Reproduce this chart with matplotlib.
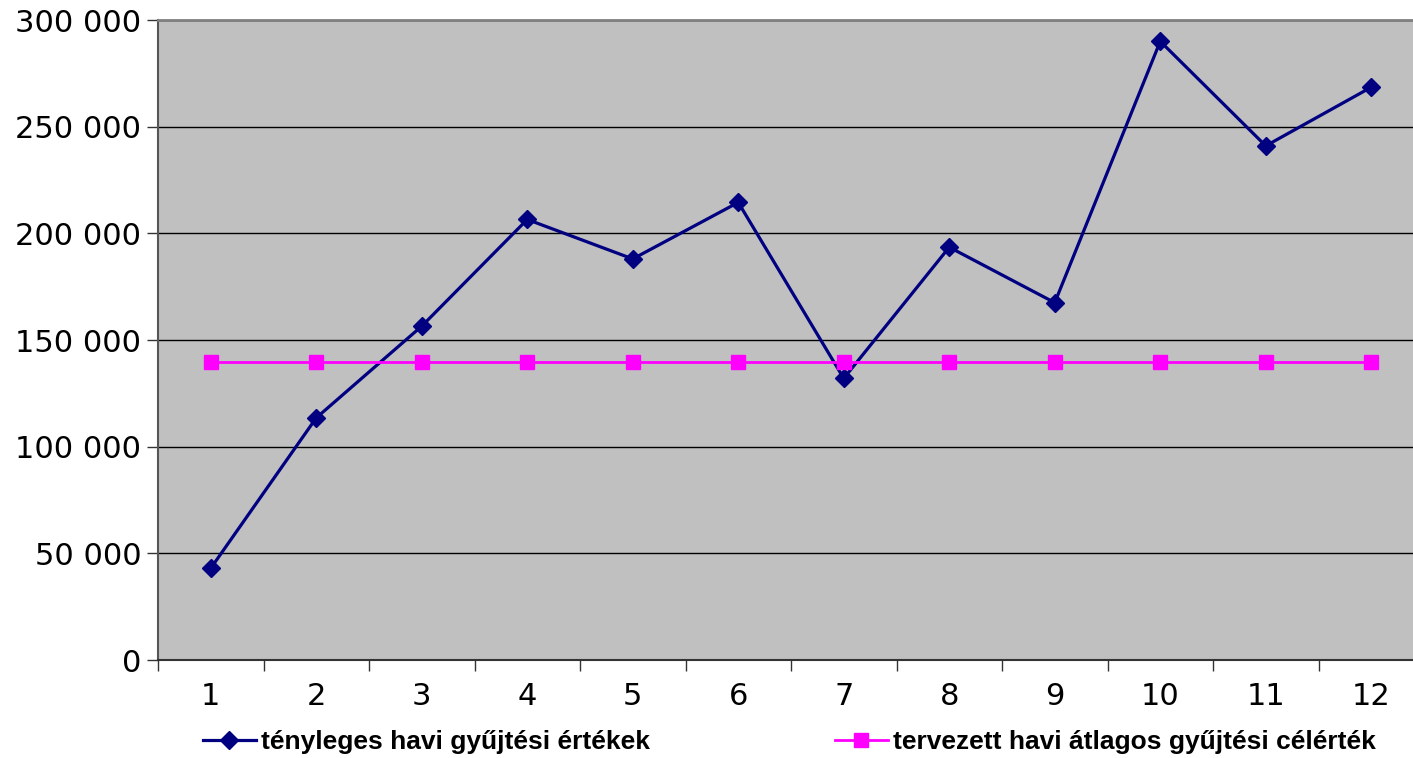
import matplotlib
matplotlib.use("Agg")
import matplotlib.pyplot as plt
from matplotlib.ticker import FuncFormatter, FixedLocator

# havi adatok
honapok = [1, 2, 3, 4, 5, 6, 7, 8, 9, 10, 11, 12]
tenyleges = [43000, 113500, 156500, 206500, 188000, 214500,
             132000, 193500, 167500, 290000, 241000, 268500]
tervezett = [139500] * 12

W, H = 1413, 758
fig = plt.figure(figsize=(W / 100, H / 100), dpi=100)
# a rajzterület jobb széle kicsit kilóg a képből
ax = fig.add_axes([158 / W, 98 / H, 1266 / W, 640 / H])
ax.set_facecolor("#C0C0C0")

l1, = ax.plot(honapok, tenyleges, color="#000080", lw=2.3, marker="D", ms=9,
              label="tényleges havi gyűjtési értékek")
l2, = ax.plot(honapok, tervezett, color="#FF00FF", lw=2.0, marker="s", ms=9.5,
              label="tervezett havi átlagos gyűjtési célérték")

ax.set_xlim(0.5, 12.5)
ax.set_ylim(0, 300000)
ax.set_yticks(range(0, 300001, 50000))
ax.yaxis.set_major_formatter(FuncFormatter(lambda v, p: f"{int(v):,}".replace(",", " ")))
ax.set_xticks(honapok)
ax.xaxis.set_minor_locator(FixedLocator([x + 0.5 for x in range(0, 12)]))
ax.tick_params(axis="x", which="major", length=0, pad=16, labelsize=22)
ax.tick_params(axis="x", which="minor", length=8, width=1, color="#333333")
ax.tick_params(axis="y", length=8, width=1, color="#333333", labelsize=22, pad=4)
for t in ax.get_xticklabels() + ax.get_yticklabels():
    t.set_family("DejaVu Sans")

ax.grid(axis="y", color="black", lw=1)
ax.set_axisbelow(True)
for s in ["top", "right"]:
    ax.spines[s].set_color("#808080")
    ax.spines[s].set_linewidth(2)
ax.spines["left"].set_color("#555555")
ax.spines["bottom"].set_color("#333333")
ax.spines["left"].set_linewidth(1.5)
ax.spines["bottom"].set_linewidth(1.5)

prop = {"family": "Liberation Sans", "weight": "bold", "size": 19}
for line, x0 in [(l1, 203), (l2, 835)]:
    lg = fig.legend(handles=[line], loc="center left",
                    bbox_to_anchor=(x0 / W, 1 - 742 / H), frameon=False,
                    borderpad=0, borderaxespad=0, handlelength=2.0,
                    handletextpad=0.2, prop=prop)

fig.savefig("out.png", dpi=100)
